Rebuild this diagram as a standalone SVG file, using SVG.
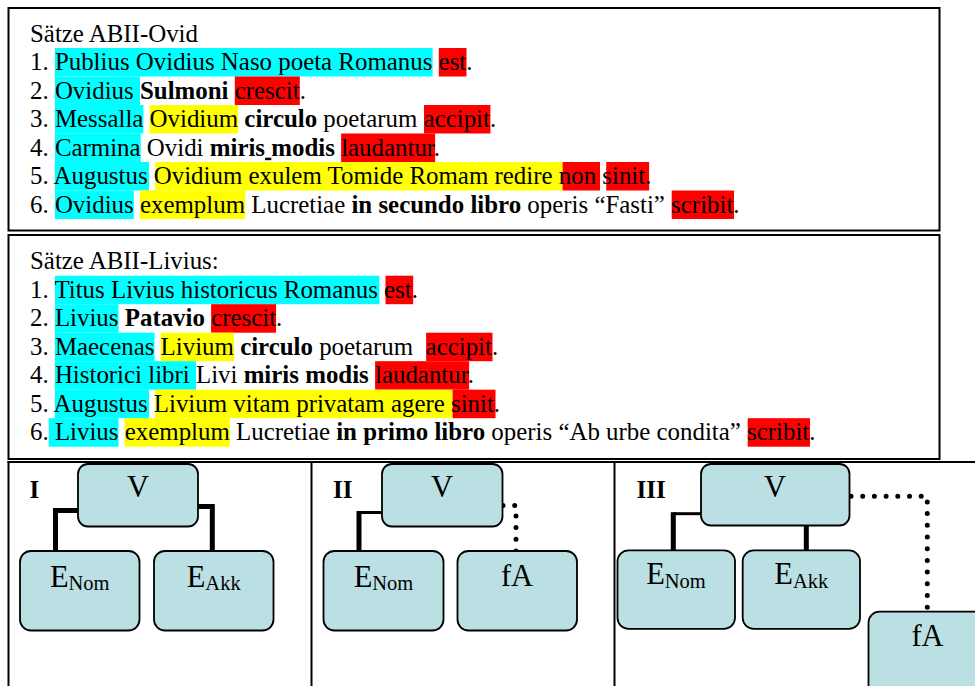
<svg xmlns="http://www.w3.org/2000/svg" width="975" height="686" viewBox="0 0 975 686">
<style>
.t{font-family:"Liberation Serif","Times New Roman",serif;font-size:24.9px;fill:#000}
.b{font-weight:bold}
.c{fill:#00FFFF}
.y{fill:#FFFF00}
.r{fill:#FF0000}
.frame{fill:none;stroke:#000;stroke-width:2}
.node{fill:#BBE0E3;stroke:#000;stroke-width:1.8}
.nt{font-family:"Liberation Serif","Times New Roman",serif;font-size:30.5px;text-anchor:middle;fill:#000}
.sub{font-size:20.5px}
.lab{font-family:"Liberation Serif","Times New Roman",serif;font-size:25px;font-weight:bold;fill:#000}
.thick{fill:none;stroke:#000;stroke-width:5}
.thin{fill:none;stroke:#000;stroke-width:3}
.dot{fill:none;stroke:#000;stroke-width:5;stroke-linecap:round;stroke-dasharray:0 11.7}
</style>
<rect width="975" height="686" fill="#fff"/>

<g id="ovid">
<rect class="frame" x="8.5" y="8" width="931" height="222.5"/>
<rect class="c" x="54.9" y="48" width="377.7" height="28.5"/>
<rect class="r" x="438.8" y="48" width="27.7" height="28.5"/>
<rect class="c" x="54.9" y="76.5" width="85.1" height="28.5"/>
<rect class="r" x="234.8" y="76.5" width="65" height="28.5"/>
<rect class="c" x="54.9" y="105" width="88.5" height="28.5"/>
<rect class="y" x="149.6" y="105" width="88.5" height="28.5"/>
<rect class="r" x="424" y="105" width="66.4" height="28.5"/>
<rect class="c" x="54.9" y="133.5" width="85.8" height="28.5"/>
<rect class="r" x="341.1" y="133.5" width="94" height="28.5"/>
<rect class="c" x="54.9" y="162" width="94.1" height="28.5"/>
<rect class="y" x="155.2" y="162" width="407.4" height="28.5"/>
<rect class="r" x="562.6" y="162" width="37.4" height="28.5"/>
<rect class="r" x="606.2" y="162" width="42.9" height="28.5"/>
<rect class="c" x="54.9" y="190.5" width="78.9" height="28.5"/>
<rect class="y" x="140" y="190.5" width="105.1" height="28.5"/>
<rect class="r" x="671.7" y="190.5" width="62.3" height="28.5"/>
<text class="t" x="30" y="41.7" xml:space="preserve">Sätze ABII-Ovid</text>
<text class="t" x="30" y="70.2" xml:space="preserve">1. Publius Ovidius Naso poeta Romanus est.</text>
<text class="t" x="30" y="98.7" xml:space="preserve">2. Ovidius <tspan class="b">Sulmoni</tspan> crescit.</text>
<text class="t" x="30" y="127.2" xml:space="preserve">3. Messalla Ovidium <tspan class="b">circulo</tspan> poetarum accipit.</text>
<text class="t" x="30" y="155.7" xml:space="preserve">4. Carmina Ovidi <tspan class="b">miris<tspan text-decoration="underline"> </tspan>modis</tspan> laudantur.</text>
<text class="t" x="30" y="184.2" xml:space="preserve">5. Augustus Ovidium exulem Tomide Romam redire non sinit.</text>
<text class="t" x="30" y="212.7" xml:space="preserve">6. Ovidius exemplum Lucretiae <tspan class="b">in secundo libro</tspan> operis “Fasti” scribit.</text>
</g>

<g id="livius">
<rect class="frame" x="8.5" y="235" width="931" height="224"/>
<rect class="c" x="54.9" y="275.7" width="324.4" height="28.5"/>
<rect class="r" x="385.5" y="275.7" width="27.7" height="28.5"/>
<rect class="c" x="54.9" y="304.2" width="63.6" height="28.5"/>
<rect class="r" x="211.1" y="304.2" width="65" height="28.5"/>
<rect class="c" x="54.9" y="332.7" width="99.6" height="28.5"/>
<rect class="y" x="160.7" y="332.7" width="73.3" height="28.5"/>
<rect class="r" x="426.1" y="332.7" width="66.4" height="28.5"/>
<rect class="c" x="54.9" y="361.2" width="141.1" height="28.5"/>
<rect class="r" x="375.1" y="361.2" width="94" height="28.5"/>
<rect class="c" x="54.9" y="389.7" width="94.1" height="28.5"/>
<rect class="y" x="155.2" y="389.7" width="297.4" height="28.5"/>
<rect class="r" x="452.6" y="389.7" width="42.9" height="28.5"/>
<rect class="c" x="48.7" y="418.2" width="69.8" height="28.5"/>
<rect class="y" x="124.7" y="418.2" width="105.1" height="28.5"/>
<rect class="r" x="747.7" y="418.2" width="62.3" height="28.5"/>
<text class="t" x="30" y="269.4" xml:space="preserve">Sätze ABII-Livius:</text>
<text class="t" x="30" y="297.9" xml:space="preserve">1. Titus Livius historicus Romanus est.</text>
<text class="t" x="30" y="326.4" xml:space="preserve">2. Livius <tspan class="b">Patavio</tspan> crescit.</text>
<text class="t" x="30" y="354.9" xml:space="preserve">3. Maecenas Livium <tspan class="b">circulo</tspan> poetarum  accipit.</text>
<text class="t" x="30" y="383.4" xml:space="preserve">4. Historici libri Livi <tspan class="b">miris modis</tspan> laudantur.</text>
<text class="t" x="30" y="411.9" xml:space="preserve">5. Augustus Livium vitam privatam agere sinit.</text>
<text class="t" x="30" y="440.4" xml:space="preserve">6. Livius exemplum Lucretiae <tspan class="b">in primo libro</tspan> operis “Ab urbe condita” scribit.</text>
</g>

<g id="panels">
<line class="frame" x1="7.5" y1="462" x2="975" y2="462"/>
<line class="frame" x1="8.5" y1="461" x2="8.5" y2="686"/>
<line class="frame" x1="311.5" y1="462" x2="311.5" y2="686"/>
<line class="frame" x1="614.5" y1="462" x2="614.5" y2="686"/>
<text class="lab" x="29.5" y="497.7">I</text>
<text class="lab" x="333" y="497.7">II</text>
<text class="lab" x="636.5" y="497.7">III</text>
</g>

<g id="connectors">
<path class="thick" d="M79,510.5 H55.5 V552"/>
<path class="thick" d="M197,506.5 H212.3 V552"/>
<path class="thin" d="M383,512.5 H359"/>
<path class="thick" d="M359,511 V552"/>
<path class="dot" d="M503,505.5 H516 V551"/>
<path class="thin" d="M702,513.7 H673.3"/>
<path class="thick" d="M673.3,512.2 V551"/>
<path class="thick" d="M806.3,525 V551"/>
<path class="dot" d="M851,496.3 H927.3 V612"/>
</g>

<g id="n1-v"><rect class="node" x="78" y="464" width="120" height="62.5" rx="10"/><text class="nt" x="138" y="496.7">V</text></g>
<g id="n1-enom"><rect class="node" x="20" y="551" width="119.5" height="79.5" rx="11"/><text class="nt" x="79.7" y="586.7">E<tspan class="sub" dy="3.3">Nom</tspan></text></g>
<g id="n1-eakk"><rect class="node" x="154" y="551" width="119.5" height="79.5" rx="11"/><text class="nt" x="213.7" y="586.7">E<tspan class="sub" dy="3.3">Akk</tspan></text></g>

<g id="n2-v"><rect class="node" x="382" y="464" width="120.5" height="62.5" rx="10"/><text class="nt" x="442" y="496.7">V</text></g>
<g id="n2-enom"><rect class="node" x="323.5" y="551" width="120" height="79.5" rx="11"/><text class="nt" x="383.5" y="586.7">E<tspan class="sub" dy="3.3">Nom</tspan></text></g>
<g id="n2-fa"><rect class="node" x="457.5" y="551" width="119.5" height="79.5" rx="11"/><text class="nt" x="517" y="585.7">fA</text></g>

<g id="n3-v"><rect class="node" x="701" y="464" width="148.5" height="61.5" rx="10"/><text class="nt" x="775" y="497.3">V</text></g>
<g id="n3-enom"><rect class="node" x="617.5" y="550.3" width="117.5" height="78.5" rx="11"/><text class="nt" x="676" y="584.3">E<tspan class="sub" dy="3.3">Nom</tspan></text></g>
<g id="n3-eakk"><rect class="node" x="742.7" y="550.3" width="117.3" height="78.5" rx="11"/><text class="nt" x="801.3" y="584.3">E<tspan class="sub" dy="3.3">Akk</tspan></text></g>
<g id="n3-fa"><rect class="node" x="868.5" y="611.7" width="119.5" height="85" rx="11"/><text class="nt" x="927.5" y="645.7">fA</text></g>
</svg>
